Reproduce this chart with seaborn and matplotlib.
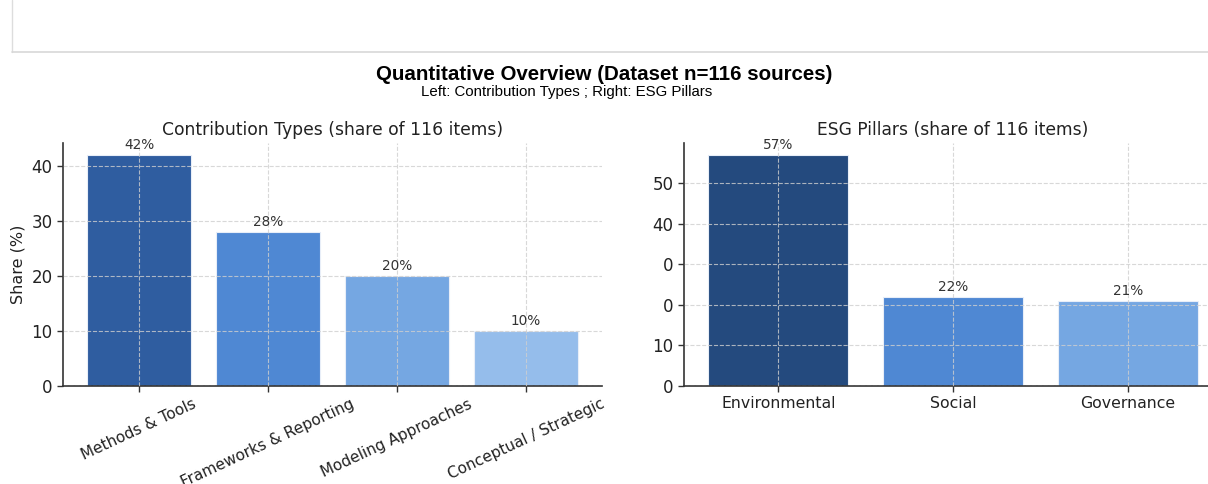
import matplotlib
matplotlib.use("Agg")
import matplotlib.pyplot as plt
from matplotlib.lines import Line2D
import seaborn as sns

# Contribution types (left panel)
contrib_types = ["Methods & Tools", "Frameworks & Reporting", "Modeling Approaches", "Conceptual / Strategic"]
contrib_share = [42, 28, 20, 10]
contrib_colors = ["#2F5DA0", "#4F88D3", "#75A7E2", "#95BDEB"]

# ESG pillars (right panel)
pillars = ["Environmental", "Social", "Governance"]
pillar_share = [57, 22, 21]
pillar_colors = ["#244A7E", "#4F88D3", "#75A7E2"]

left_yticks = [0, 10, 20, 30, 40]
right_yticks = [0, 10, 20, 30, 40, 50]
right_ytick_labels = ["0", "10", "0", "0", "40", "50"]

sns.set_theme(style="white")
plt.rcParams["font.family"] = ["DejaVu Sans"]

W, H = 1208, 484
fig = plt.figure(figsize=(W / 100, H / 100), dpi=100)

# thin frame band across the top
fig.add_artist(Line2D([12 / W, 12 / W], [1, 1 - 52 / H], color="#dddddd", lw=1.0))
fig.add_artist(Line2D([12 / W, 1], [1 - 52 / H, 1 - 52 / H], color="#d8d8d8", lw=1.2))

fig.text(604 / W, 1 - 74 / H, "Quantitative Overview (Dataset n=116 sources)",
         ha="center", va="center", fontsize=14.8, fontweight="bold",
         family="Liberation Sans", color="#000000")
fig.text(567 / W, 1 - 92 / H, "Left: Contribution Types ; Right: ESG Pillars",
         ha="center", va="center", fontsize=10.8, family="Liberation Sans", color="#000000")

ax1 = fig.add_axes([63 / W, 1 - 386 / H, 539 / W, 243 / H])
ax2 = fig.add_axes([684 / W, 1 - 386 / H, 538 / W, 243 / H])


def style_axis(ax):
    for s in ["top", "right"]:
        ax.spines[s].set_visible(False)
    for s in ["left", "bottom"]:
        ax.spines[s].set_color("#333333")
        ax.spines[s].set_linewidth(1.2)
    ax.tick_params(axis="both", which="both", direction="out", length=4, width=1,
                   color="#333333", labelcolor="#222222", bottom=True, left=True)
    ax.grid(True, linestyle="--", color="#cfcfcf", linewidth=0.8, alpha=0.8)
    ax.set_axisbelow(False)


sns.barplot(x=contrib_types, y=contrib_share, hue=contrib_types, palette=contrib_colors,
            legend=False, ax=ax1, width=0.8, edgecolor="#e8eef8", linewidth=0.8, saturation=1)
ax1.set_xlim(-0.59, 3.59)
ax1.set_ylim(0, max(contrib_share) * 1.05)
ax1.set_yticks(left_yticks)
ax1.set_title("Contribution Types (share of 116 items)", fontsize=12.3, color="#222222", pad=6)
ax1.set_ylabel("Share (%)", fontsize=11.5, color="#222222")
ax1.set_xlabel("")
style_axis(ax1)
ax1.tick_params(axis="y", labelsize=12)
ax1.tick_params(axis="x", labelsize=11, rotation=25)
for c in ax1.containers:
    ax1.bar_label(c, labels=[f"{v:.0f}%" for v in c.datavalues], padding=2,
                  fontsize=9.8, color="#333333")

sns.barplot(x=pillars, y=pillar_share, hue=pillars, palette=pillar_colors,
            legend=False, ax=ax2, width=0.8, edgecolor="#e8eef8", linewidth=0.8, saturation=1)
ax2.set_xlim(-0.54, 2.54)
ax2.set_ylim(0, max(pillar_share) * 1.05)
ax2.set_yticks(right_yticks)
ax2.set_yticklabels(right_ytick_labels)
ax2.set_title("ESG Pillars (share of 116 items)", fontsize=12.3, color="#222222", pad=6)
ax2.set_xlabel("")
ax2.set_ylabel("")
style_axis(ax2)
ax2.tick_params(axis="y", labelsize=12)
ax2.tick_params(axis="x", labelsize=11.3)
for c in ax2.containers:
    ax2.bar_label(c, labels=[f"{v:.0f}%" for v in c.datavalues], padding=2,
                  fontsize=9.8, color="#333333")

fig.savefig("out.png", dpi=100)
